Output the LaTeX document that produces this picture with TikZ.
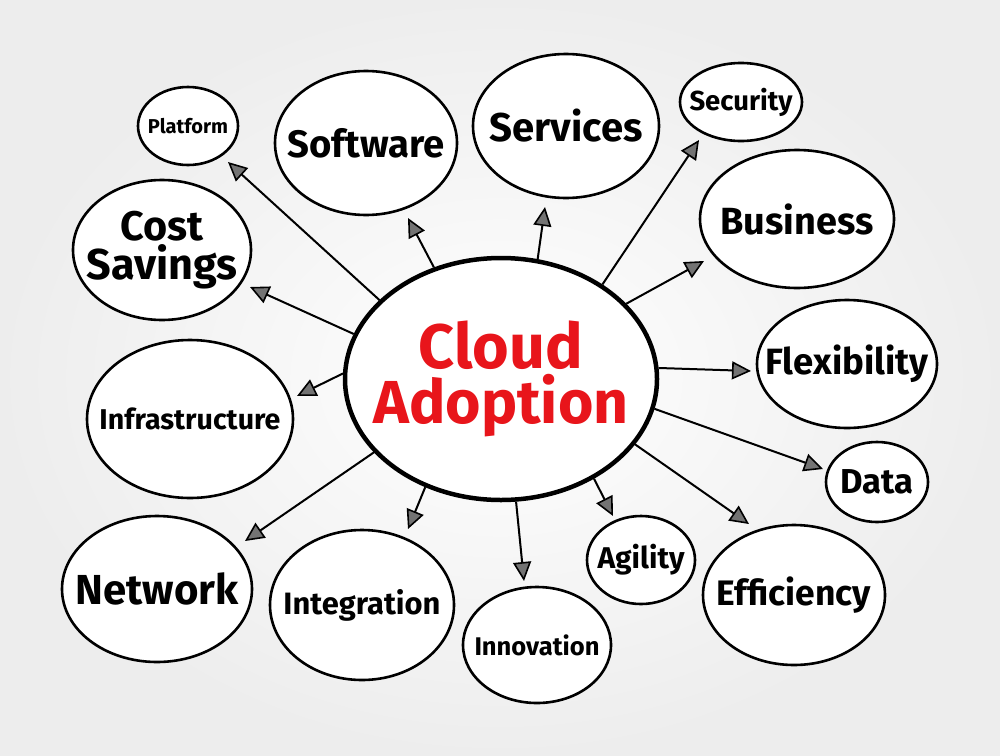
\documentclass[tikz,border=0pt]{standalone}
\usepackage{fontspec}
\setmainfont{Fira Sans}
\usetikzlibrary{shapes.geometric,arrows.meta}
\definecolor{cred}{HTML}{E8151B}
\newcommand{\fw}[2]{\makebox[0pt]{\resizebox{#1pt}{!}{\bfseries #2}}}
\begin{document}
\begin{tikzpicture}[x=1pt,y=-1pt,
  bub/.style={ellipse,draw=black,line width=2.6pt,inner sep=0pt,fill=white},
  arr/.style={line width=2pt,-{Triangle[length=19pt,width=18pt,line width=1.6pt,fill=black!55]}}]
\useasboundingbox (0,0) rectangle (1000,755);
\shade[inner color=white,outer color=black!7] (0,0) rectangle (1000,755);

% centre
\node[bub,line width=4.5pt,minimum width=312pt,minimum height=242pt,text=cred,align=center] (c) at (501,379) {\fw{164}{Cloud}\\[4pt]\fw{255}{Adoption}};

% satellites
\node[bub,minimum width=100pt,minimum height=78pt] (plat) at (188,126) {\fw{80}{Platform}};
\node[bub,minimum width=182pt,minimum height=144pt] (soft) at (366,143) {\fw{157}{Software}};
\node[bub,minimum width=186pt,minimum height=144pt] (serv) at (566,126) {\fw{153}{Services}};
\node[bub,minimum width=122pt,minimum height=78pt] (sec) at (741,102) {\fw{103}{Security}};
\node[bub,minimum width=194pt,minimum height=138pt] (bus) at (797,219) {\fw{153}{Business}};
\node[bub,minimum width=178pt,minimum height=140pt,align=center] (cost) at (162,250) {\fw{83}{Cost}\\[2pt]\fw{151}{Savings}};
\node[bub,minimum width=180pt,minimum height=128pt] (flex) at (847,364) {\fw{163}{Flexibility}};
\node[bub,minimum width=206pt,minimum height=158pt] (infra) at (190,419) {\fw{181}{Infrastructure}};
\node[bub,minimum width=102pt,minimum height=80pt] (data) at (877,482) {\fw{73}{Data}};
\node[bub,minimum width=190pt,minimum height=146pt] (net) at (157,589) {\fw{163}{Network}};
\node[bub,minimum width=184pt,minimum height=150pt] (integ) at (362,605) {\fw{157}{Integration}};
\node[bub,minimum width=148pt,minimum height=116pt] (innov) at (537,645) {\fw{125}{Innovation}};
\node[bub,minimum width=108pt,minimum height=88pt] (agil) at (641,560) {\fw{87}{Agility}};
\node[bub,minimum width=182pt,minimum height=140pt] (eff) at (794,595) {\fw{154}{Efficiency}};

% arrow tips
\coordinate (tplat) at (228,162);
\coordinate (tsoft) at (408,218);
\coordinate (tserv) at (545,207);
\coordinate (tsec) at (699,140);
\coordinate (tbus) at (704,261);
\coordinate (tcost) at (250,287);
\coordinate (tflex) at (751,371);
\coordinate (tinfra) at (297,396);
\coordinate (tdata) at (823,469);
\coordinate (tnet) at (245,541);
\coordinate (tinteg) at (408,529);
\coordinate (tinnov) at (524,581);
\coordinate (tagil) at (613,516);
\coordinate (teff) at (749,524);

\draw[arr] (c.147.9) -- (tplat);
\draw[arr] (c.121.2) -- (tsoft);
\draw[arr] (c.73.4) -- (tserv);
\draw[arr] (c.43.6) -- (tsec);
\draw[arr] (c.31.5) -- (tbus);
\draw[arr] (c.163.5) -- (tcost);
\draw[arr] (c.4) -- (tflex);
\draw[arr] (c.178.5) -- (tinfra);
\draw[arr] (c.-11.9) -- (tdata);
\draw[arr] (c.210.1) -- (tnet);
\draw[arr] (c.235.1) -- (tinteg);
\draw[arr] (c.-83) -- (tinnov);
\draw[arr] (c.-47.3) -- (tagil);
\draw[arr] (c.-26) -- (teff);
\end{tikzpicture}
\end{document}
